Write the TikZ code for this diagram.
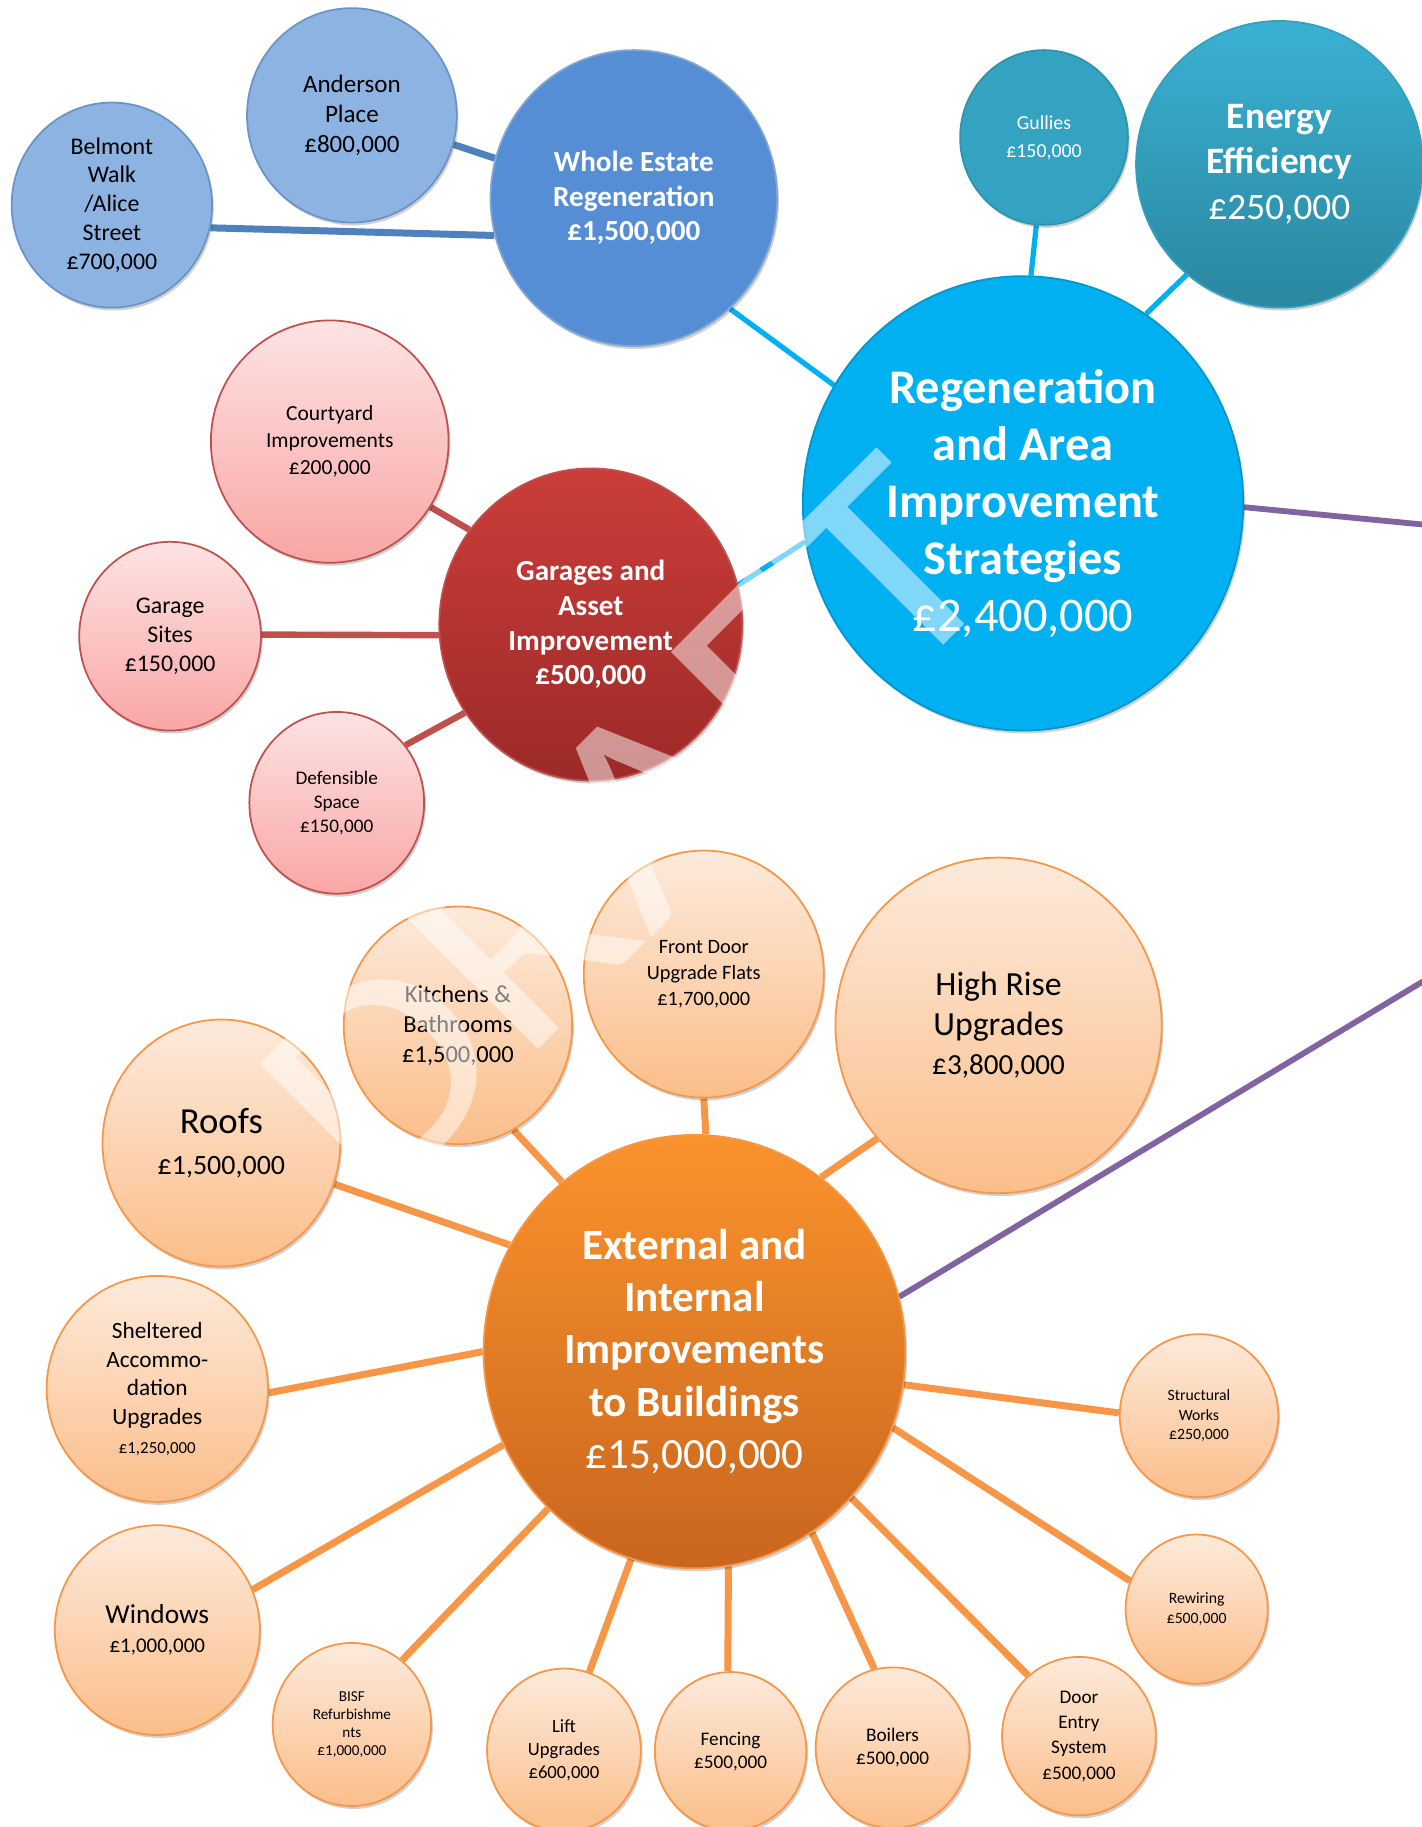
\documentclass[tikz,border=0pt]{standalone}
\usepackage{fontspec}
\setmainfont{Carlito}
\usetikzlibrary{shapes.geometric,shadows}
\pgfdeclarelayer{background}
\pgfdeclarelayer{foreground}
\pgfsetlayers{background,main,foreground}
\definecolor{LBlueFill}{HTML}{8DB3E2}
\definecolor{BlueLine}{HTML}{4F81BD}
\definecolor{MBlueFill}{HTML}{558ED5}
\definecolor{Cyan}{HTML}{00B0F0}
\definecolor{TealA}{HTML}{3AB1D4}
\definecolor{TealB}{HTML}{2A879F}
\definecolor{TealC}{HTML}{34A3C1}
\definecolor{Purple}{HTML}{8064A2}
\definecolor{RedA}{HTML}{CB3D39}
\definecolor{RedB}{HTML}{9C2A28}
\definecolor{RedLine}{HTML}{C0504D}
\definecolor{PinkA}{HTML}{FDE3E3}
\definecolor{PinkB}{HTML}{F9A6A5}
\definecolor{OrA}{HTML}{FA932C}
\definecolor{OrB}{HTML}{C9651E}
\definecolor{OrLine}{HTML}{F79646}
\definecolor{PeachA}{HTML}{FDEADB}
\definecolor{PeachB}{HTML}{FBBE8A}
\newcommand\myfs[2]{\fontsize{#1}{#2}\selectfont}
\begin{document}
\begin{tikzpicture}[x=1pt,y=-1pt,
  bub/.style={ellipse, inner sep=0pt, align=center, line width=1.5pt,
    drop shadow={shadow xshift=1.5pt, shadow yshift=-2.5pt, opacity=0.18, fill=black}},
  lblue/.style={bub, fill=LBlueFill, draw=BlueLine!85, text=black},
  mblue/.style={bub, fill=MBlueFill, draw=BlueLine!70, text=white, font=\bfseries},
  tealsm/.style={bub, fill=TealC, draw=TealC!90!black, text=white},
  tealbg/.style={bub, top color=TealA, bottom color=TealB, draw=TealA!90!black, text=white},
  cyanbig/.style={bub, fill=Cyan, draw=Cyan!85!black, text=white},
  redbig/.style={bub, top color=RedA, bottom color=RedB, draw=RedLine, text=white, font=\bfseries},
  pink/.style={bub, top color=PinkA, bottom color=PinkB, draw=RedLine, text=black},
  orbig/.style={bub, top color=OrA, bottom color=OrB, draw=OrLine, text=white},
  peach/.style={bub, top color=PeachA, bottom color=PeachB, draw=OrLine, text=black},
  lnblue/.style={line width=6pt, draw=BlueLine},
  lncyan/.style={line width=4.5pt, draw=Cyan},
  lnpurple/.style={line width=5pt, draw=Purple},
  lnred/.style={line width=5.5pt, draw=RedLine},
  lnorange/.style={line width=6pt, draw=OrLine},
  watermark/.style={text=white, text opacity=0.5, inner sep=0pt},
  sz/.style 2 args={minimum width=#1, minimum height=#2}]
\useasboundingbox (0,0) rectangle (1220,1568);
\clip (0,0) rectangle (1220,1568);

% ---- blue cluster
\node[lblue, sz={172pt}{176pt}, font=\myfs{20.5}{24.8}] (bel) at (96,176)
  {Belmont\\Walk\\/Alice\\Street\\£700,000};
\node[lblue, sz={180pt}{184pt}, font=\myfs{21.5}{26}] (and) at (302,99)
  {Anderson\\Place\\£800,000};
\node[mblue, sz={246pt}{254pt}, font=\myfs{25}{29.5}\bfseries] (whole) at (544,170)
  {Whole Estate\\Regeneration\\£1,500,000};

% ---- teal / cyan
\node[tealsm, sz={144pt}{150pt}, font=\myfs{17}{24}] (gul) at (896,118)
  {Gullies\\£150,000};
\node[tealbg, sz={246pt}{246pt}, font=\myfs{32}{39}] (ener) at (1098,141)
  {\bfseries Energy\\\bfseries Efficiency\\£250,000};
\node[cyanbig, sz={378pt}{390pt}, font=\myfs{41.5}{49}] (reg) at (878,432)
  {\bfseries Regeneration\\\bfseries and Area\\\bfseries Improvement\\\bfseries Strategies\\£2,400,000};

% ---- red cluster
\node[redbig, sz={260pt}{268pt}, font=\myfs{25}{29.7}\bfseries] (gar) at (507,536)
  {Garages and\\Asset\\Improvement\\£500,000};
\node[pink, sz={204pt}{208pt}, font=\myfs{18.5}{23}] (court) at (283,379)
  {Courtyard\\Improvements\\£200,000};
\node[pink, sz={156pt}{162pt}, font=\myfs{20.5}{25}] (gsite) at (146,546)
  {Garage\\Sites\\£150,000};
\node[pink, sz={150pt}{156pt}, font=\myfs{16.5}{20.5}] (def) at (289,689)
  {Defensible\\Space\\£150,000};

% ---- orange cluster
\node[orbig, sz={362pt}{372pt}, font=\myfs{37}{44.75}] (ext) at (596,1160)
  {\bfseries External and\\\bfseries Internal\\\bfseries Improvements\\\bfseries to Buildings\\£15,000,000};
\node[peach, sz={196pt}{204pt}, font=\myfs{21}{26}] (kit) at (393,880)
  {Kitchens \&\\Bathrooms\\£1,500,000};
\node[peach, sz={206pt}{212pt}, font=\myfs{17.5}{22.5}] (front) at (604,836)
  {Front Door\\Upgrade Flats\\£1,700,000};
\node[peach, sz={280pt}{288pt}, font=\myfs{29}{34}] (high) at (857,880)
  {High Rise\\Upgrades\\{\myfs{25}{34}£3,800,000}};
\node[peach, sz={204pt}{212pt}, font=\myfs{24}{35}] (roofs) at (190,981)
  {{\myfs{31.5}{35}Roofs}\\£1,500,000};
\node[peach, sz={190pt}{194pt}, font=\myfs{20}{24.7}] (shel) at (135,1192)
  {Sheltered\\Accommo-\\dation\\Upgrades\\{\myfs{14.5}{21}£1,250,000}};
\node[peach, sz={176pt}{180pt}, font=\myfs{18}{25}] (win) at (135,1399)
  {{\myfs{23.5}{25}Windows}\\£1,000,000};
\node[peach, sz={136pt}{140pt}, font=\myfs{13}{15.6}] (bisf) at (302,1480)
  {BISF\\Refurbishme\\nts\\£1,000,000};
\node[peach, sz={132pt}{140pt}, font=\myfs{16}{20}] (lift) at (484,1502)
  {Lift\\Upgrades\\£600,000};
\node[peach, sz={130pt}{136pt}, font=\myfs{16.5}{20}] (fence) at (627,1503)
  {Fencing\\£500,000};
\node[peach, sz={132pt}{138pt}, font=\myfs{16.5}{20}] (boil) at (766,1500)
  {Boilers\\£500,000};
\node[peach, sz={132pt}{136pt}, font=\myfs{16.5}{21.7}] (door) at (926,1490)
  {Door\\Entry\\System\\£500,000};
\node[peach, sz={136pt}{140pt}, font=\myfs{13.5}{16.5}] (struct) at (1029,1215)
  {Structural\\Works\\£250,000};
\node[peach, sz={122pt}{128pt}, font=\myfs{13.5}{17}] (rew) at (1027,1381)
  {Rewiring\\£500,000};

\coordinate (pe1) at (1240,452);
\coordinate (pe2) at (1240,831);

\begin{pgfonlayer}{background}
  \draw[lnblue] (and.-16) -- (whole.164);
  \draw[lnblue] (bel.-13) -- (whole.195);
  \draw[lncyan] (whole.-49) -- (reg.148);
  \draw[lncyan] (gul.-95) -- (reg.88);
  \draw[lncyan] (ener.-130) -- (reg.57);
  \draw[lncyan] (gar.15) -- (reg.190);
  \draw[lnpurple] (reg.-1) -- (pe1);
  \draw[lnred] (court.-33) -- (gar.142);
  \draw[lnred] (gsite.1) -- (gar.184);
  \draw[lnred] (def.40) -- (gar.215);
  \draw[lnorange] (kit.-62) -- (ext.128);
  \draw[lnorange] (front.-90) -- (ext.87);
  \draw[lnorange] (high.-137) -- (ext.54);
  \draw[lnorange] (roofs.-20) -- (ext.150);
  \draw[lnorange] (shel.-2) -- (ext.180);
  \draw[lnorange] (win.23) -- (ext.206);
  \draw[lnorange] (bisf.52) -- (ext.227);
  \draw[lnorange] (lift.72) -- (ext.253);
  \draw[lnorange] (fence.92) -- (ext.279);
  \draw[lnorange] (boil.103) -- (ext.303);
  \draw[lnorange] (door.130) -- (ext.317);
  \draw[lnorange] (struct.178) -- (ext.-9);
  \draw[lnorange] (rew.157) -- (ext.-21);
  \draw[lnpurple] (ext.15) -- (pe2);
\end{pgfonlayer}

\begin{pgfonlayer}{foreground}
  \node[watermark, rotate=45, xscale=1.15, font=\myfs{250}{300}] (wm) at (539,711) {DRAFT};
\end{pgfonlayer}
\end{tikzpicture}
\end{document}
